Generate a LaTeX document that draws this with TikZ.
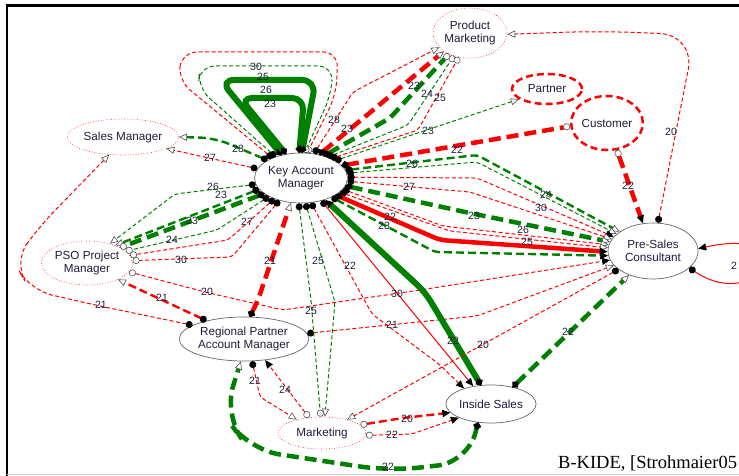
\documentclass[tikz,border=0pt]{standalone}
\usepackage{fontspec}
\setmainfont{Liberation Sans}
\newfontfamily\creditfont{Liberation Serif}
\usetikzlibrary{shapes.geometric,arrows.meta}
\definecolor{txt}{RGB}{30,30,60}
\definecolor{dgreen}{RGB}{0,128,0}
\tikzset{kdot/.tip={Circle[length=7pt,color=black]},
  otri/.tip={Triangle[length=8pt,width=7pt,color=black!70,fill=white,line width=0.6pt]},
  ocirc/.tip={Circle[length=7pt,color=black!70,fill=white,line width=0.6pt]},
  ftri/.tip={Triangle[length=8pt,width=7pt,color=black]}}

\begin{document}
\begin{tikzpicture}[x=1pt,y=-1pt,
  actor/.style={ellipse,draw=black!60,line width=0.7pt,fill=white,inner sep=0pt,
    align=center,text=txt,font=\fontsize{11.7}{13}\selectfont},
  role/.style={actor,draw=red,line width=0.6pt,dotted},
  ext/.style={actor,draw=red,line width=2.5pt,dash pattern=on 7pt off 4pt},
  rthin/.style={draw=red,line width=1pt,dash pattern=on 4pt off 2.5pt},
  rmid/.style={draw=red,line width=2.4pt,dash pattern=on 8pt off 4pt},
  rthick/.style={draw=red,line width=4.5pt,dash pattern=on 12pt off 6pt},
  gthin/.style={draw=dgreen,line width=1pt,dash pattern=on 4pt off 2.5pt},
  gmid/.style={draw=dgreen,line width=2.4pt,dash pattern=on 8pt off 4pt},
  gthick/.style={draw=dgreen,line width=4.5pt,dash pattern=on 12pt off 6pt},
  gsolid/.style={draw=dgreen,line width=6pt},
  rsolid/.style={draw=red,line width=4.5pt},
  rline/.style={draw=red,line width=1pt},
  lab/.style={text=txt,inner sep=0pt,font=\fontsize{10.5}{11}\selectfont}]
  \useasboundingbox (0,0) rectangle (739,476);
  \draw[line width=2.5pt] (7,476) -- (7,5.5) -- (739,5.5);
  \draw[black!20,line width=1.5pt] (7,474.5) -- (739,474.5);

  \node[actor,minimum width=84pt,minimum height=50pt] (kam) at (301,178) {Key Account\\Manager};
  \node[role,minimum width=74pt,minimum height=50pt] (pm) at (470,33) {Product\\Marketing};
  \node[ext,minimum width=70pt,minimum height=30pt] (partner) at (547,89) {Partner};
  \node[ext,minimum width=66pt,minimum height=54pt] (cust) at (607,123) {Customer};
  \node[role,minimum width=84pt,minimum height=36pt] (sm) at (123,137) {Sales Manager};
  \node[role,minimum width=82pt,minimum height=44pt] (pso) at (87,263) {PSO Project\\Manager};
  \node[actor,minimum width=122pt,minimum height=44pt] (rpam) at (244,339) {Regional Partner\\Account Manager};
  \node[role,minimum width=88pt,minimum height=32pt] (mkt) at (322,433) {Marketing};
  \node[actor,minimum width=86pt,minimum height=38pt] (is) at (491,404) {Inside Sales};
  \node[actor,minimum width=90pt,minimum height=56pt] (psc) at (653,251) {Pre-Sales\\Consultant};

  \draw[rthin,rounded corners=15pt,{kdot}-{ocirc}] (kam.145) -- (178,80) -- (182,52) -- (338,52) -- (336,95) -- (kam.76);
  \draw[gthin,rounded corners=15pt,{kdot}-{ocirc}] (kam.140) -- (198,88) -- (200,66) -- (333,66) -- (331,95) -- (kam.82);
  \draw[gsolid,rounded corners=14pt,{kdot}-{kdot}] (kam.130) -- (220,80) -- (316,80) -- (kam.88);
  \draw[gsolid,rounded corners=12pt,{kdot}-{kdot}] (kam.122) -- (240,98) -- (304,98) -- (kam.94);

  \draw[gmid,rounded corners=15pt,{kdot}-{otri}] (kam.152) -- (215,138) -- (sm.0);
  \draw[rthin,{kdot}-{otri}] (kam.168) -- (sm.-15);
  \draw[rthin,rounded corners=22pt,{kdot}-{otri}] (rpam.165) -- (95,305) -- (30,290) -- (14,262) -- (38,228) -- (sm.-128);

  \draw[gthin,rounded corners=4pt,{kdot}-{otri}] (kam.-172) -- (175,194) -- (pso.40);
  \draw[gmid,{kdot}-{otri}] (kam.-165) -- (pso.32);
  \draw[gthick,{kdot}-{ocirc}] (kam.-157) -- (pso.25);
  \draw[gthin,rounded corners=4pt,{kdot}-{ocirc}] (kam.-150) -- (217,230) -- (pso.17);
  \draw[rthin,rounded corners=4pt,{kdot}-{ocirc}] (kam.-142) -- (228,240) -- (pso.10);
  \draw[rthin,rounded corners=4pt,{kdot}-{ocirc}] (kam.-134) -- (232,257) -- (pso.3);
  \draw[rthin,rounded corners=6pt,{ocirc}-{ftri}] (pso.-12) -- (205,292) -- (283,310) -- (420,290) -- (psc.192);
  \draw[rmid,{kdot}-{otri}] (rpam.154) -- (pso.-28);
  \draw[rthin,rounded corners=6pt,{kdot}-{otri}] (rpam.5) -- (330,331) -- (477,316) -- (psc.200);

  \draw[rthick,rounded corners=4pt,{kdot}-{otri}] (rpam.75) -- (258,300) -- (kam.-112);
  \draw[gthin,rounded corners=4pt,{kdot}-{ocirc}] (kam.-95) -- (311,300) -- (mkt.95);
  \draw[gthin,rounded corners=4pt,{kdot}-{otri}] (kam.-80) -- (335,302) -- (mkt.80);
  \draw[rthin,rounded corners=4pt,{kdot}-{ftri}] (kam.-68) -- (372,314) -- (440,365) -- (is.150);
  \draw[rline,{kdot}-{ftri}] (kam.-48) -- (is.135);
  \draw[gsolid,rounded corners=10pt,{ftri}-{kdot}] (kam.-42) -- (425,292) -- (is.118);

  \draw[rthin,{kdot}-{otri}] (psc.-152) -- (mkt.28);
  \draw[rmid,{ocirc}-{ftri}] (mkt.12) -- (403,418) -- (is.192);
  \draw[rthin,rounded corners=4pt,{ocirc}-{ftri}] (mkt.-3) -- (412,434) -- (is.203);
  \draw[rthin,rounded corners=4pt,{kdot}-{otri}] (rpam.-70) -- (260,397) -- (mkt.152);
  \draw[rthin,{ocirc}-{ftri}] (mkt.130) -- (rpam.-45);
  \draw[gthick,rounded corners=30pt,{kdot}-{otri}] (is.-125) -- (468,462) -- (390,471) -- (250,450) -- (224,415) -- (rpam.-98);
  \draw[gthick,{kdot}-{otri}] (is.38) -- (psc.-135);

  \draw[rthick,{ocirc}-{ftri}] (cust.-70) -- (psc.110);
  \draw[rthin,rounded corners=35pt,{kdot}-{otri}] (psc.80) -- (695,35) -- (600,31) -- (pm.-2);
  \draw[rline,{kdot}-{ftri}] (psc.-25) .. controls (760,315) and (805,225) .. (psc.3);
  \draw[rthick,{kdot}-{ocirc}] (kam.17) -- (cust.185);
  \draw[gthin,{kdot}-{otri}] (kam.27) -- (partner.-160);

  \draw[rthin,rounded corners=4pt,{kdot}-{otri}] (kam.62) -- (353,92) -- (pm.-155);
  \draw[rthick,{kdot}-{otri}] (kam.52) -- (pm.-145);
  \draw[gthick,rounded corners=4pt,{kdot}-{ocirc}] (kam.44) -- (390,118) -- (pm.-135);
  \draw[gthin,rounded corners=4pt,{kdot}-{ocirc}] (kam.38) -- (408,125) -- (pm.-125);
  \draw[rthin,rounded corners=4pt,{kdot}-{ocirc}] (kam.33) -- (418,130) -- (pm.-115);

  \draw[gmid,rounded corners=4pt,{kdot}-{otri}] (kam.10) -- (477,155) -- (psc.150);
  \draw[gthin,rounded corners=4pt,{kdot}-{otri}] (kam.6) -- (477,162) -- (psc.155);
  \draw[rthin,rounded corners=4pt,{kdot}-{ftri}] (kam.1) -- (477,178) -- (psc.160);
  \draw[rthin,rounded corners=4pt,{kdot}-{otri}] (kam.-4) -- (470,192) -- (psc.164);
  \draw[gthick,rounded corners=4pt,{kdot}-{otri}] (kam.-10) -- (465,212) -- (psc.168);
  \draw[rthin,rounded corners=4pt,{kdot}-{otri}] (kam.-15) -- (443,226) -- (psc.172);
  \draw[rthin,rounded corners=4pt,{kdot}-{otri}] (kam.-20) -- (450,231) -- (psc.176);
  \draw[rsolid,rounded corners=6pt,{kdot}-{ftri}] (kam.-26) -- (440,240) -- (psc.181);
  \draw[gmid,rounded corners=4pt,{kdot}-{ftri}] (kam.-32) -- (435,252) -- (psc.186);

  \foreach \x/\y/\lbl [count=\i] in {256/67/30,263/77/25,266/90/26,270/104/23,
      238/149/23,210/158/27,213/187/26,221/195/23,192/221/23,172/240/24,247/222/27,
      181/260/30,207/292/20,162/298/21,101/305/21,270/261/21,318/261/25,311/311/25,
      350/266/22,397/294/30,453/341/22,392/325/21,483/345/20,568/332/22,407/419/20,
      392/435/22,255/381/21,285/390/24,388/467/22,334/120/28,347/129/23,414/86/23,
      427/94/24,440/98/25,428/131/23,457/150/22,628/186/22,671/132/20,412/164/26,
      409/187/27,546/195/24,541/208/30,474/216/23,523/230/26,527/242/25,390/217/22,
      384/226/23}
    \node[lab] (lab\i) at (\x,\y) {\lbl};
  \node[lab,anchor=west] (loop) at (731,266) {2};
  \node[anchor=base west,inner sep=0pt,text=black,font=\creditfont\fontsize{18.5}{20}\selectfont] (credit) at (558,468) {B-KIDE, [Strohmaier05};
\end{tikzpicture}
\end{document}
